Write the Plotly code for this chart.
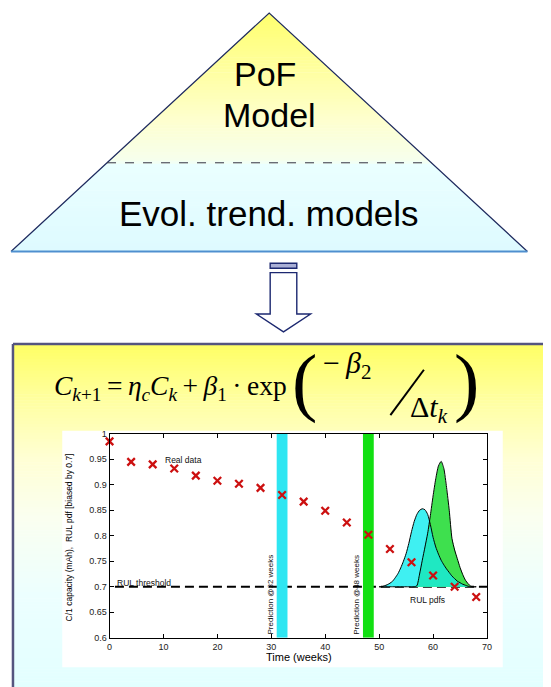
import plotly.graph_objects as go
import numpy as np

W, H = 551, 687
OFF = 8  # page body margin of the html page

# ---------------- data ----------------
weeks = [0, 4, 8, 12, 16, 20, 24, 28, 32, 36, 40, 44, 48, 52, 56, 60, 64, 68]
capacity = [0.985, 0.945, 0.940, 0.932, 0.918, 0.908, 0.902, 0.894, 0.880, 0.867,
            0.849, 0.826, 0.802, 0.774, 0.748, 0.722, 0.700, 0.680]
threshold = 0.7
pred_weeks = [32, 48]
pred_labels = ["Prediction @32 weeks", "Prediction @48 weeks"]
pred_colors = ["#2ee6f2", "#12e012"]

pdf_x = [50.0, 50.5, 51.0, 51.5, 52.0, 52.5, 53.0, 53.5, 54.0, 54.5, 55.0, 55.5,
         56.0, 56.5, 57.0, 57.5, 58.0, 58.5, 59.0, 59.5, 60.0, 60.5, 61.0, 61.5,
         62.0, 62.5, 63.0, 63.5, 64.0, 64.5, 65.0, 65.5, 66.0, 66.5, 67.0, 67.5, 68.0]
pdf_32 = [0.700, 0.700, 0.702, 0.704, 0.707, 0.711, 0.718, 0.726, 0.737, 0.750, 0.765, 0.785,
          0.808, 0.828, 0.842, 0.850, 0.853, 0.851, 0.842, 0.822, 0.797, 0.778, 0.764, 0.752,
          0.743, 0.735, 0.728, 0.721, 0.716, 0.711, 0.708, 0.705, 0.703, 0.701, 0.700, 0.700, 0.700]
pdf_48 = [0.700, 0.700, 0.700, 0.700, 0.700, 0.700, 0.700, 0.700, 0.700, 0.700, 0.700, 0.700,
          0.700, 0.700, 0.702, 0.725, 0.752, 0.778, 0.805, 0.840, 0.878, 0.912, 0.937, 0.946,
          0.932, 0.895, 0.850, 0.795, 0.772, 0.755, 0.738, 0.724, 0.713, 0.706, 0.701, 0.700, 0.700]

x_ticks = [0, 10, 20, 30, 40, 50, 60, 70]
y_ticks = [0.6, 0.65, 0.7, 0.75, 0.8, 0.85, 0.9, 0.95, 1.0]
y_tick_labels = ["0.6", "0.65", "0.7", "0.75", "0.8", "0.85", "0.9", "0.95", "1"]


# ---------------- helpers (screen pixel -> paper) ----------------
def fx(x):
    return (x - OFF) / W


def fy(y):
    return 1 - (y - OFF) / H


def lerp_color(stops, y):
    for (y0, c0), (y1, c1) in zip(stops[:-1], stops[1:]):
        if y0 <= y <= y1:
            t = (y - y0) / (y1 - y0) if y1 > y0 else 0
            c = [round(a + (b - a) * t) for a, b in zip(c0, c1)]
            return "rgb(%d,%d,%d)" % tuple(c)
    c = stops[-1][1] if y > stops[-1][0] else stops[0][1]
    return "rgb(%d,%d,%d)" % tuple(c)


def path(points, close=True):
    s = "M " + " L ".join("%.5f,%.5f" % (fx(x), fy(y)) for x, y in points)
    return s + (" Z" if close else "")


shapes = []
BOT = H + OFF
RIGHT = W + OFF

# ---- lower box with gradient ----
box_stops = [(344, (255, 255, 100)), (400, (255, 255, 160)), (460, (255, 255, 212)),
             (520, (250, 255, 240)), (600, (236, 255, 255)), (BOT, (226, 255, 255))]
y = 344
while y < BOT:
    shapes.append(dict(type="rect", xref="paper", yref="paper", layer="below",
                       x0=fx(10), x1=fx(RIGHT), y0=fy(min(y + 3.5, BOT)), y1=fy(y),
                       fillcolor=lerp_color(box_stops, y + 1.5), line=dict(width=0)))
    y += 3
shapes.append(dict(type="line", xref="paper", yref="paper", layer="below",
                   x0=fx(10), x1=fx(RIGHT), y0=fy(344), y1=fy(344),
                   line=dict(color="#55557f", width=2.5)))
shapes.append(dict(type="line", xref="paper", yref="paper", layer="below",
                   x0=fx(10), x1=fx(10), y0=fy(344), y1=fy(BOT),
                   line=dict(color="#55557f", width=2.5)))
# white chart panel
shapes.append(dict(type="rect", xref="paper", yref="paper", layer="below",
                   x0=fx(60), x1=fx(507), y0=fy(672), y1=fy(432),
                   fillcolor="white", line=dict(width=0)))

# ---- pyramid with gradient ----
apex_x, apex_y, base_y, half_base = 270, 8, 250, 262


def tri_x(yy):
    d = (yy - apex_y) * half_base / (base_y - apex_y)
    return apex_x - d, apex_x + d


tri_stops = [(8, (255, 255, 110)), (60, (255, 255, 155)), (115, (254, 255, 205)),
             (159, (246, 255, 238)), (160.5, (234, 255, 255)), (250, (222, 250, 255))]
y = apex_y
while y < base_y:
    y1 = min(y + 3.5, base_y)
    l0, r0 = tri_x(y)
    l1, r1 = tri_x(y1)
    shapes.append(dict(type="path", xref="paper", yref="paper", layer="below",
                       path=path([(l0, y), (r0, y), (r1, y1), (l1, y1)]),
                       fillcolor=lerp_color(tri_stops, y + 1.5), line=dict(width=0)))
    y += 3
lb, rb = tri_x(base_y)
shapes.append(dict(type="path", xref="paper", yref="paper", layer="below",
                   path=path([(lb, base_y), (apex_x, apex_y), (rb, base_y)], close=False),
                   line=dict(color="#1e2a5e", width=1.2)))
shapes.append(dict(type="line", xref="paper", yref="paper", layer="below",
                   x0=fx(lb), x1=fx(rb), y0=fy(base_y), y1=fy(base_y),
                   line=dict(color="#4f8fcf", width=2.2)))
dl, dr = tri_x(160)
shapes.append(dict(type="line", xref="paper", yref="paper", layer="below",
                   x0=fx(dl), x1=fx(dr), y0=fy(160), y1=fy(160),
                   line=dict(color="#333344", width=1, dash="dash")))

# ---- down arrow ----
shapes.append(dict(type="path", xref="paper", yref="paper", layer="below",
                   path=path([(271, 271.5), (271, 313.5), (257, 313.5), (284.5, 331.5),
                              (312, 313.5), (298, 313.5), (298, 271.5)]),
                   fillcolor="white", line=dict(color="#1c2870", width=1.4)))
shapes.append(dict(type="rect", xref="paper", yref="paper", layer="below",
                   x0=fx(271), x1=fx(298), y0=fy(267), y1=fy(262),
                   fillcolor="#a9afd6", line=dict(color="#1c2870", width=1.4)))

# ---- slash of the fraction in the formula ----
shapes.append(dict(type="line", xref="paper", yref="paper",
                   x0=fx(393), x1=fx(427), y0=fy(416), y1=fy(370),
                   line=dict(color="black", width=2)))

# ---------------- traces ----------------
fig = go.Figure()

xmin, xmax, ymin, ymax = 0, 70, 0.6, 1.0

fig.add_trace(go.Scatter(x=[1, xmax], y=[threshold, threshold], mode="lines",
                         line=dict(color="black", width=2, dash="9px,5px"),
                         hoverinfo="skip", showlegend=False))

for w, c in zip(pred_weeks, pred_colors):
    fig.add_trace(go.Scatter(x=[w - 1, w + 1, w + 1, w - 1], y=[ymin, ymin, ymax, ymax],
                             mode="lines", fill="toself", fillcolor=c,
                             line=dict(width=0), hoverinfo="skip", showlegend=False))

n = len(pdf_x)
poly_x = pdf_x + pdf_x[::-1]
base = [threshold] * n
overlap = list(np.minimum(pdf_32, pdf_48))
for vals, col in [(pdf_32, "#3ff0f2"), (pdf_48, "#3ee04e"), (overlap, "#1fe8c2")]:
    fig.add_trace(go.Scatter(x=poly_x, y=list(vals) + base, mode="lines", fill="toself",
                             fillcolor=col, line=dict(width=0),
                             hoverinfo="skip", showlegend=False))
for vals in [pdf_32, pdf_48]:
    fig.add_trace(go.Scatter(x=pdf_x, y=vals, mode="lines",
                             line=dict(color="black", width=1, shape="spline", smoothing=0.6),
                             hoverinfo="skip", showlegend=False))

fig.add_trace(go.Scatter(x=weeks, y=capacity, mode="markers", cliponaxis=False,
                         marker=dict(symbol="x-thin", size=7.5, color="#e01010",
                                     line=dict(color="#cc1010", width=2.3)),
                         showlegend=False))

# ---------------- annotations ----------------
ann = []
sans = "Liberation Sans, Arial, sans-serif"
serif = "Liberation Serif, Times New Roman, serif"
TS = "\u2009"  # thin space


def pa(text, x, y, size, family=sans, xanchor="center", yanchor="middle", **kw):
    ann.append(dict(text=text, x=fx(x), y=fy(y), xref="paper", yref="paper",
                    xanchor=xanchor, yanchor=yanchor, showarrow=False,
                    font=dict(size=size, family=family, color="black"), **kw))


pa("PoF", 266, 70, 34)
pa("Model", 270, 112, 34)
pa("Evol. trend. models", 270, 211, 35)

# formula
pa("<i>C</i><sub><i>k</i>+1</sub>" + TS + "=" + TS + "<i>η</i><sub><i>c</i></sub><i>C</i><sub><i>k</i></sub>"
   + TS + "+" + TS + "<i>β</i><sub>1</sub>" + TS + "·" + TS + "exp", 50, 388, 27.5,
   family=serif, xanchor="left")
pa("(", 306, 382, 76, family=serif)
pa("−" + TS + "<i>β</i><sub>2</sub>", 323, 365, 30, family=serif, xanchor="left")
pa("Δ<i>t</i><sub><i>k</i></sub>", 411, 410, 30, family=serif, xanchor="left")
pa(")", 470, 382, 76, family=serif)

# axis titles
pa("Time (weeks)", 300, 662, 11)
pa("C/1 capacity (mAh),  RUL pdf [biased by 0.7]", 67, 540, 8.5, textangle=-90)


def da(text, x, y, size=8.5, xanchor="center", yanchor="middle", **kw):
    ann.append(dict(text=text, x=x, y=y, xref="x", yref="y", xanchor=xanchor,
                    yanchor=yanchor, showarrow=False,
                    font=dict(size=size, family=sans, color="#111"), **kw))


da("Real data", 10, 0.949, xanchor="left")
da("RUL threshold", 1, 0.708, xanchor="left")
da("RUL pdfs", 59, 0.675)
for w, lab in zip(pred_weeks, pred_labels):
    da(lab, w - 2.2, 0.603, size=8, yanchor="bottom", textangle=-90)

axis_common = dict(showline=True, linecolor="black", linewidth=1, mirror="ticks",
                   ticks="inside", ticklen=4, tickcolor="black", showgrid=False,
                   zeroline=False, tickfont=dict(size=9, family=sans, color="#222"))

fig.update_layout(
    width=W, height=H, autosize=False,
    margin=dict(l=0, r=0, t=0, b=0, pad=0),
    paper_bgcolor="white", plot_bgcolor="rgba(0,0,0,0)",
    shapes=shapes, annotations=ann, showlegend=False,
    xaxis=dict(domain=[fx(108), fx(491)], range=[xmin, xmax], tickvals=x_ticks,
               **axis_common),
    yaxis=dict(domain=[fy(642), fy(435)], range=[ymin, ymax], tickvals=y_ticks,
               ticktext=y_tick_labels, **axis_common),
)

fig.write_html("out.html")
